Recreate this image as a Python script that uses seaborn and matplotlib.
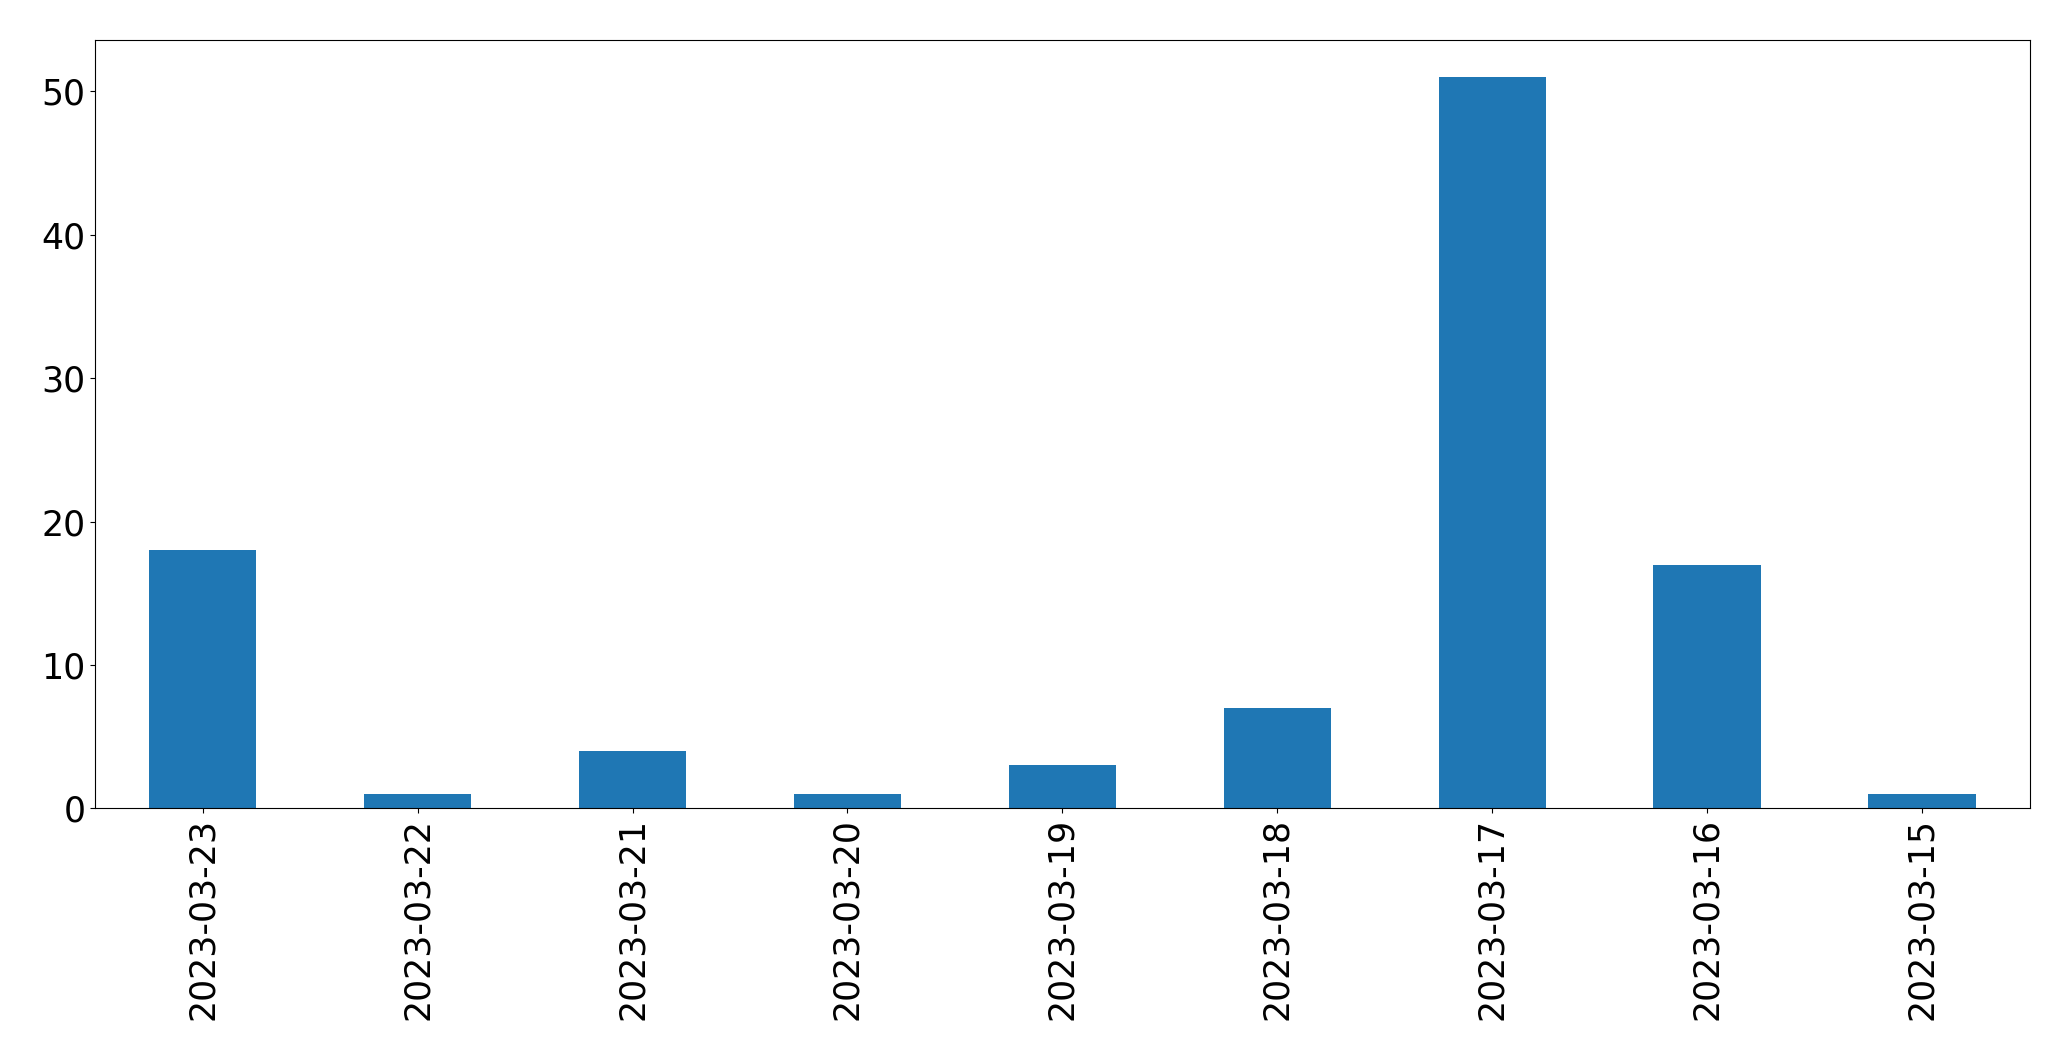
import pandas as pd
import matplotlib
matplotlib.use('Agg')
import matplotlib.pyplot as plt
import seaborn as sns

# Counts per day
dates = ["2023-03-23", "2023-03-22", "2023-03-21", "2023-03-20", "2023-03-19",
         "2023-03-18", "2023-03-17", "2023-03-16", "2023-03-15"]
counts = [18, 1, 4, 1, 3, 7, 51, 17, 1]

df = pd.DataFrame({'date': dates, 'count': counts})

fig, ax = plt.subplots(figsize=(20.71, 10.61), dpi=100)
sns.barplot(data=df, x='date', y='count', order=dates, color='#1f77b4',
            saturation=1, width=0.5, linewidth=0, ax=ax)

ax.set_xlim(-0.5, len(dates) - 0.5)
ax.set_ylim(0, max(counts) * 1.05)
ax.set_xlabel('')
ax.set_ylabel('')
ax.tick_params(axis='both', labelsize=25)
for s in ax.spines.values():
    s.set_color('black')
plt.xticks(rotation=90)

plt.subplots_adjust(left=0.046, right=0.98, top=0.962, bottom=0.238)
plt.savefig('out.png')
